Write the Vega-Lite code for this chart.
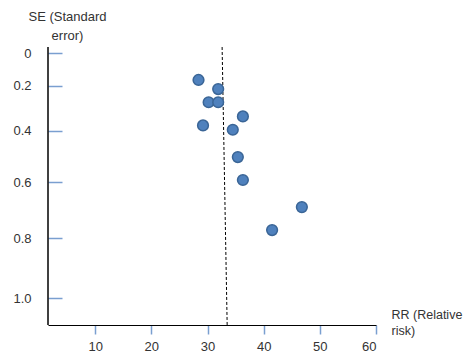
{
  "$schema": "https://vega.github.io/schema/vega-lite/v6.json",
  "autosize": "none",
  "width": 328,
  "height": 278,
  "padding": {"left": 48, "top": 47, "right": 87, "bottom": 27},
  "background": "white",
  "config": {
    "view": {"stroke": null},
    "font": "Liberation Sans",
    "axis": {"labelFont": "Liberation Sans", "titleFont": "Liberation Sans", "labelFontSize": 13, "titleFontSize": 13, "labelColor": "#333333", "titleColor": "#333333", "titleFontWeight": "normal", "domainColor": "#000000", "domainWidth": 1.2, "tickColor": "#7a9fd0", "tickWidth": 1.5, "grid": false}
  },
  "datasets": {
    "studies": [
      {"rr": 28.4, "se": 0.171},
      {"rr": 31.9, "se": 0.216},
      {"rr": 30.2, "se": 0.277},
      {"rr": 31.9, "se": 0.277},
      {"rr": 36.3, "se": 0.339},
      {"rr": 29.2, "se": 0.377},
      {"rr": 34.5, "se": 0.395},
      {"rr": 35.4, "se": 0.504},
      {"rr": 36.3, "se": 0.591},
      {"rr": 46.8, "se": 0.690},
      {"rr": 41.5, "se": 0.771}
    ],
    "pooled": [
      {"rr": 32.6, "se": -0.0515, "rr2": 33.5, "se2": 1.087}
    ],
    "yline": [
      {"rr": 1.6, "se": -0.0515, "se2": 1.087}
    ]
  },
  "layer": [
    {
      "data": {"name": "yline"},
      "mark": {"type": "rule", "color": "#000000", "strokeWidth": 1.5},
      "encoding": {
        "x": {"field": "rr", "type": "quantitative"},
        "y": {"field": "se", "type": "quantitative"},
        "y2": {"field": "se2"}
      }
    },
    {
      "data": {"name": "pooled"},
      "mark": {"type": "rule", "color": "#000000", "strokeWidth": 1, "strokeDash": [3, 2]},
      "encoding": {
        "x": {"field": "rr", "type": "quantitative"},
        "x2": {"field": "rr2"},
        "y": {"field": "se", "type": "quantitative"},
        "y2": {"field": "se2"}
      }
    },
    {
      "data": {"name": "studies"},
      "mark": {"type": "circle", "size": 115, "color": "#4f81bd", "opacity": 1, "stroke": "#3a6596", "strokeWidth": 1.5},
      "encoding": {
        "x": {
          "field": "rr", "type": "quantitative",
          "scale": {"domain": [1.6, 60], "nice": false, "zero": false},
          "axis": {"values": [10, 20, 30, 40, 50, 60], "tickSize": 9, "labelPadding": 6, "title": ["RR (Relative", "risk)"], "titleFontSize": 12.5, "titleAnchor": "start", "titleAlign": "left", "titleBaseline": "top", "titleX": 343, "titleY": -17, "titleLineHeight": 16, "titleAngle": 0}
        },
        "y": {
          "field": "se", "type": "quantitative",
          "scale": {"type": "pow", "exponent": 1.25, "domain": [-0.0515, 1.087], "nice": false, "zero": false, "reverse": true},
          "axis": {"values": [0, 0.2, 0.4, 0.6, 0.8, 1.0], "labelExpr": "datum.value == 0 ? '0' : format(datum.value, '.1f')", "tickSize": -14, "labelPadding": 31, "domain": false, "title": ["SE (Standard", "error)"], "titleAngle": 0, "titleAlign": "center", "titleBaseline": "top", "titleX": 19, "titleY": -37, "titleLineHeight": 19}
        }
      }
    }
  ]
}
